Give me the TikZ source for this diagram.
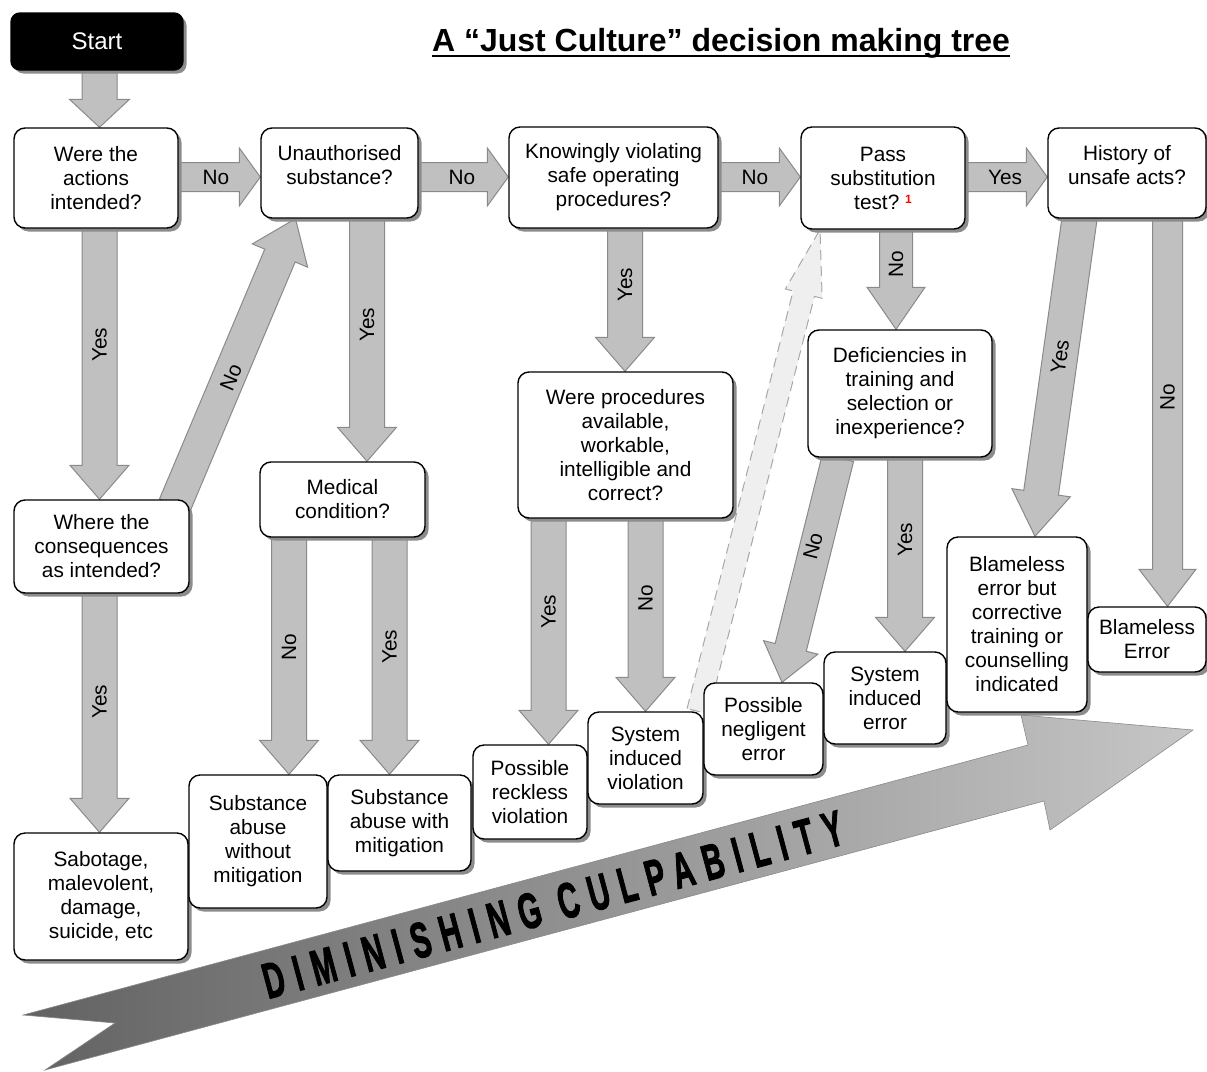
\documentclass[tikz,border=0pt]{standalone}
\usepackage{fontspec}
\setmainfont{Liberation Sans}
\usetikzlibrary{calc,shadows}

\pgfdeclarelayer{back}
\pgfdeclarelayer{links}
\pgfsetlayers{back,links,main}

\definecolor{arrowfill}{HTML}{C0C0C0}
\definecolor{arrowline}{HTML}{8A8A8A}
\definecolor{shadowgray}{HTML}{8C8C8C}
\definecolor{ghostfill}{HTML}{EFEFEF}
\definecolor{ghostline}{HTML}{A8A8A8}
\definecolor{bandleft}{HTML}{626262}
\definecolor{bandright}{HTML}{C6C6C6}
\definecolor{bandline}{HTML}{8A8A8A}

\tikzset{
  % shaft half-width / head half-width / head length of a block arrow
  arrowdims/.code args={#1/#2/#3}{\def\bsw{#1}\def\bhw{#2}\def\bhl{#3}},
  blockarrow/.style={draw=arrowline, fill=arrowfill, line width=1pt, line join=miter,
    to path={let \p1=(\tikztostart), \p2=(\tikztotarget) in
      ($(\p1)!\bsw!90:(\p2)$)
      -- ($(\p2)!\bhl!(\p1)!\bsw!90:(\p2)$)
      -- ($(\p2)!\bhl!(\p1)!\bhw!90:(\p2)$)
      -- (\p2)
      -- ($(\p2)!\bhl!(\p1)!\bhw!-90:(\p2)$)
      -- ($(\p2)!\bhl!(\p1)!\bsw!-90:(\p2)$)
      -- ($(\p1)!\bsw!-90:(\p2)$)
      -- cycle}},
  varrow/.style={blockarrow, arrowdims=17.5pt/29.5pt/34pt},
  harrow/.style={blockarrow, arrowdims=14.5pt/29pt/21pt},
  ghostarrow/.style={blockarrow, draw=ghostline, fill=ghostfill, dash pattern=on 10pt off 6pt,
    arrowdims=11pt/19pt/66pt},
  box/.style={draw=black, line width=1.4pt, fill=white, rounded corners=11pt, align=center,
    inner sep=2pt, font=\fontsize{20.8}{24}\selectfont,
    drop shadow={shadow xshift=3.5pt, shadow yshift=-3.5pt, fill=shadowgray, opacity=1}},
  txt/.style={align=center, inner sep=0pt, font=\fontsize{20.8}{24}\selectfont},
  lbl/.style={inner sep=0pt, font=\fontsize{20.8}{24}\selectfont},
}

\begin{document}
\begin{tikzpicture}[x=1pt, y=-1pt]
\useasboundingbox (0,0) rectangle (1207,1071);

% ---- title ----
\node[inner sep=0pt, anchor=base, font=\bfseries\fontsize{32}{36}\selectfont] (title) at (721,51)
  {A “Just Culture” decision making tree};
\draw[line width=2pt] ([yshift=-5pt]title.base west) -- ([yshift=-5pt]title.base east);

% ---- decision boxes ----
\node[box, fill=black, text=white, minimum width=172pt, minimum height=57pt, rounded corners=9pt,
      font=\fontsize{24}{26}\selectfont] (start) at (97,41.5) {Start};
\node[box, minimum width=164pt, minimum height=100pt] (were) at (96,178) {Were the\\actions\\intended?};
\node[box, minimum width=157pt, minimum height=90pt] (unauth) at (339.5,173) {};
\node[txt] (unauthtxt) at (339.5,165) {Unauthorised\\substance?};
\node[box, minimum width=209pt, minimum height=101pt] (know) at (613.5,177.5)
  {Knowingly violating\\safe operating\\procedures?};
\node[box, minimum width=164pt, minimum height=102pt] (pass) at (883,178)
  {Pass\\substitution\\test?~\raisebox{6pt}{\fontsize{12}{12}\selectfont\bfseries\color{red}1}};
\node[box, minimum width=158pt, minimum height=90pt] (hist) at (1127,173) {};
\node[txt] (histtxt) at (1127,165) {History of\\unsafe acts?};

\node[box, minimum width=175pt, minimum height=93pt] (where) at (101.5,546.5)
  {Where the\\consequences\\as intended?};
\node[box, minimum width=165pt, minimum height=75pt] (medical) at (342.5,499.5) {Medical\\condition?};
\node[box, minimum width=215pt, minimum height=146pt] (proc) at (625.5,445)
  {Were procedures\\available,\\workable,\\intelligible and\\correct?};
\node[box, minimum width=184pt, minimum height=127pt] (def) at (900,393.5)
  {Deficiencies in\\training and\\selection or\\inexperience?};

% ---- outcome boxes ----
\node[box, minimum width=174pt, minimum height=127pt] (sabotage) at (101,896.5)
  {Sabotage,\\malevolent,\\damage,\\suicide, etc};
\node[box, minimum width=138pt, minimum height=133pt] (subwo) at (258,841.5)
  {Substance\\abuse\\without\\mitigation};
\node[box, minimum width=143pt, minimum height=96pt] (subwith) at (399.5,823)
  {Substance\\abuse with\\mitigation};
\node[box, minimum width=114pt, minimum height=94pt] (reckless) at (530,792)
  {Possible\\reckless\\violation};
\node[box, minimum width=115pt, minimum height=92pt] (sysviol) at (645.5,758)
  {System\\induced\\violation};
\node[box, minimum width=119pt, minimum height=92pt] (negl) at (763.5,729)
  {Possible\\negligent\\error};
\node[box, minimum width=122pt, minimum height=92pt] (syserr) at (885,698)
  {System\\induced\\error};
\node[box, minimum width=140pt, minimum height=175pt] (blamebut) at (1017,624.5)
  {Blameless\\error but\\corrective\\training or\\counselling\\indicated};
\node[box, minimum width=118pt, minimum height=65pt] (blameerr) at (1147,639.5)
  {Blameless\\Error};

% ---- big gradient arrow ----
\begin{pgfonlayer}{back}
\path[draw=bandline, line width=0.6pt, left color=bandleft, right color=bandright]
  (23,1015) -- (1028,745) -- (1021,715) -- (1193,730) -- (1050,830) -- (1044,801)
  -- (45,1070) -- (115,1023) -- cycle;
\end{pgfonlayer}
\node[rotate=15.05, anchor=base west, inner sep=0pt] (culp) at (268,999)
  {\scalebox{0.58}[1]{\fontsize{50}{50}\selectfont\bfseries\addfontfeature{LetterSpace=36,FakeBold=2.5}DIMINISHING CULPABILITY}};

% ---- connectors ----
\begin{pgfonlayer}{links}
\draw[varrow, arrowdims=17.5pt/30pt/28pt] ([xshift=2.5pt]start.south) to ([xshift=2.5pt]start.south |- were.north);

\draw[harrow] ([yshift=1pt]were.east) to ([yshift=1pt]were.east -| unauth.west);
\draw[harrow] ([yshift=1pt]were.east -| unauth.east) to ([yshift=1pt]were.east -| know.west);
\draw[harrow] ([yshift=1pt]were.east -| know.east) to ([yshift=1pt]were.east -| pass.west);
\draw[harrow] ([yshift=1pt]were.east -| pass.east) to ([yshift=1pt]were.east -| hist.west);

\draw[varrow] ([xshift=3.5pt]were.south) to ([xshift=3.5pt]were.south |- where.north);
\draw[varrow] ([xshift=-2pt]where.south) to ([xshift=-2pt]where.south |- sabotage.north);
\draw[blockarrow, arrowdims=16.5pt/30pt/40pt] ([xshift=-15pt,yshift=-6pt]where.north east) to ([xshift=-44pt]unauth.south);

\draw[varrow] ([xshift=27.5pt]unauth.south) to ([xshift=27.5pt]unauth.south |- medical.north);
\draw[varrow] ([xshift=-53.5pt]medical.south) to ([xshift=-53.5pt]medical.south |- subwo.north);
\draw[varrow] ([xshift=47pt]medical.south) to ([xshift=47pt]medical.south |- subwith.north);

\draw[varrow] ([xshift=11.5pt]know.south) to ([xshift=11.5pt]know.south |- proc.north);
\draw[varrow] ([xshift=-77pt]proc.south) to ([xshift=-77pt]proc.south |- reckless.north);
\draw[varrow] ([xshift=20pt]proc.south) to ([xshift=20pt]proc.south |- sysviol.north);

\draw[varrow, arrowdims=16.5pt/29pt/42pt] ([xshift=13pt]pass.south) to ([xshift=13pt]pass.south |- def.north);
\draw[blockarrow, arrowdims=16pt/28pt/36pt] ([xshift=-62pt]def.south) to ([xshift=18.5pt]negl.north);
\draw[varrow] ([xshift=5pt]def.south) to ([xshift=5pt]def.south |- syserr.north);

\draw[blockarrow, arrowdims=17.5pt/29.5pt/44pt] ([xshift=-47.5pt]hist.south) to ([xshift=18pt]blamebut.north);
\draw[varrow, arrowdims=15pt/28.5pt/37pt] ([xshift=40.5pt]hist.south) to ([xshift=40.5pt]hist.south |- blameerr.north);

\draw[ghostarrow] ([xshift=-6pt]sysviol.north east) to ([xshift=-63pt]pass.south);
\end{pgfonlayer}

% ---- connector labels ----
\node[lbl] (l1) at (216,177) {No};
\node[lbl] (l2) at (462,177) {No};
\node[lbl] (l3) at (755,177) {No};
\node[lbl] (l4) at (1005,177) {Yes};
\node[lbl, rotate=90] (l5) at (99.5,345) {Yes};
\node[lbl, rotate=67] (l6) at (231,377) {No};
\node[lbl, rotate=90] (l7) at (367,325) {Yes};
\node[lbl, rotate=90] (l8) at (289,647) {No};
\node[lbl, rotate=90] (l9) at (389.5,647) {Yes};
\node[lbl, rotate=90] (l10) at (99.5,702) {Yes};
\node[lbl, rotate=90] (l11) at (625,285) {Yes};
\node[lbl, rotate=90] (l12) at (548.5,612) {Yes};
\node[lbl, rotate=90] (l13) at (645.5,598) {No};
\node[lbl, rotate=90] (l14) at (896,264) {No};
\node[lbl, rotate=76] (l15) at (813,546) {No};
\node[lbl, rotate=90] (l16) at (905,540) {Yes};
\node[lbl, rotate=82] (l17) at (1060,357) {Yes};
\node[lbl, rotate=90] (l18) at (1167.5,397) {No};
\end{tikzpicture}
\end{document}
